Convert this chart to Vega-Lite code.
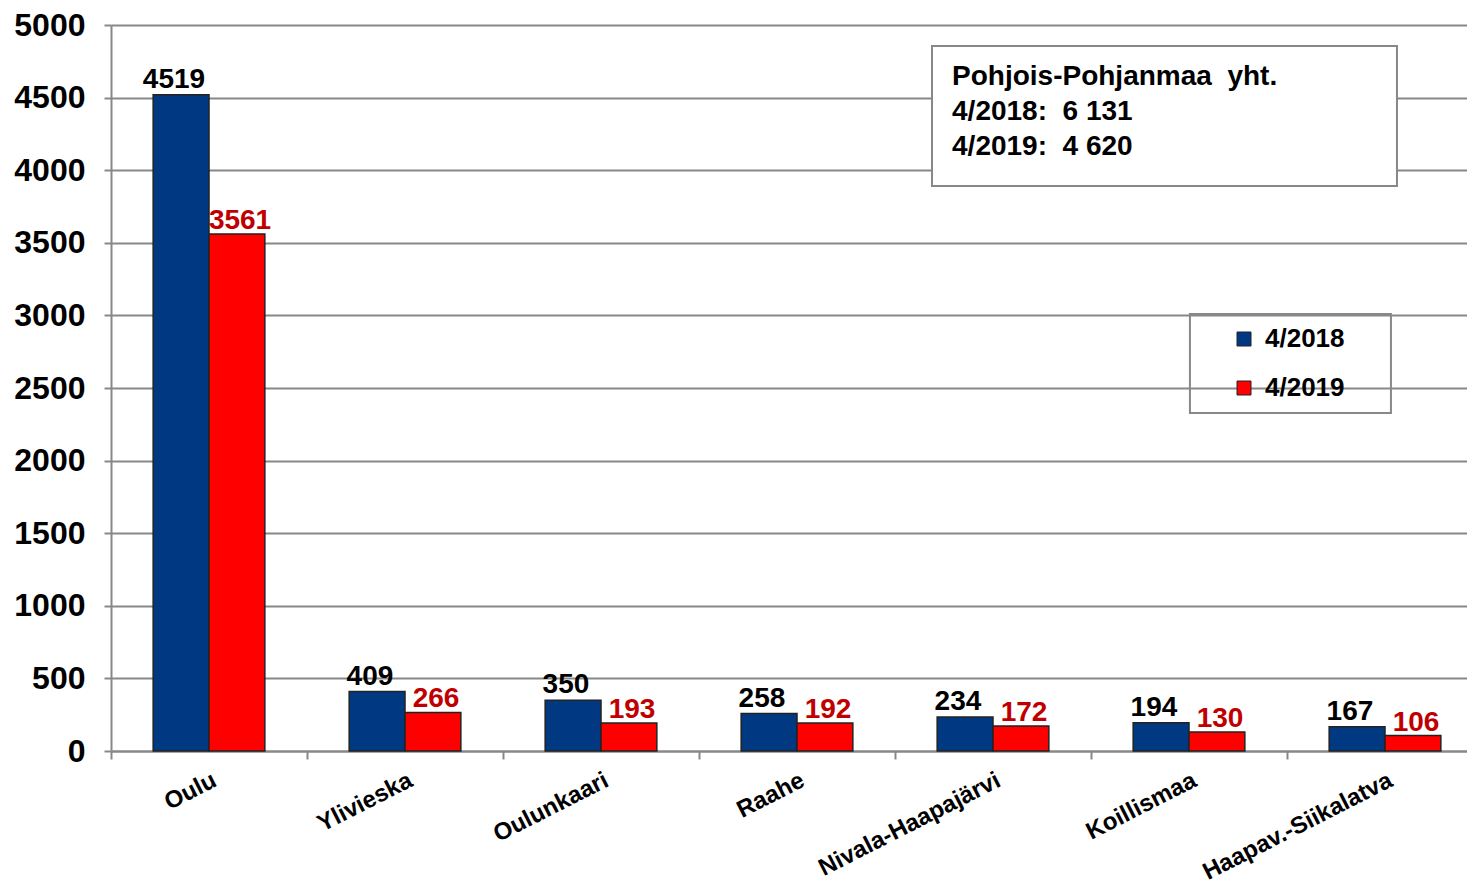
{
  "$schema": "https://vega.github.io/schema/vega-lite/v6.json",
  "width": 1372,
  "height": 726,
  "autosize": "none",
  "padding": {"left": 111, "top": 25, "right": -16, "bottom": 135},
  "background": "white",
  "config": {
    "font": "Liberation Sans",
    "view": {"stroke": null},
    "legend": {
      "orient": "none",
      "legendX": 1120,
      "legendY": 301,
      "padding": 0,
      "title": null,
      "symbolType": "square",
      "symbolSize": 196,
      "symbolStrokeColor": "#222222",
      "symbolStrokeWidth": 1,
      "labelFont": "Liberation Sans",
      "labelFontSize": 26,
      "labelFontWeight": "bold",
      "labelColor": "black",
      "labelOffset": 8,
      "rowPadding": 23
    }
  },
  "datasets": {
    "bars": [
      {"region": "Oulu", "series": "4/2018", "value": 4519},
      {"region": "Oulu", "series": "4/2019", "value": 3561},
      {"region": "Ylivieska", "series": "4/2018", "value": 409},
      {"region": "Ylivieska", "series": "4/2019", "value": 266},
      {"region": "Oulunkaari", "series": "4/2018", "value": 350},
      {"region": "Oulunkaari", "series": "4/2019", "value": 193},
      {"region": "Raahe", "series": "4/2018", "value": 258},
      {"region": "Raahe", "series": "4/2019", "value": 192},
      {"region": "Nivala-Haapajärvi", "series": "4/2018", "value": 234},
      {"region": "Nivala-Haapajärvi", "series": "4/2019", "value": 172},
      {"region": "Koillismaa", "series": "4/2018", "value": 194},
      {"region": "Koillismaa", "series": "4/2019", "value": 130},
      {"region": "Haapav.-Siikalatva", "series": "4/2018", "value": 167},
      {"region": "Haapav.-Siikalatva", "series": "4/2019", "value": 106}
    ]
  },
  "layer": [
    {
      "data": {"name": "bars"},
      "mark": {"type": "bar", "stroke": "#222222", "strokeWidth": 1.5},
      "encoding": {
        "x": {
          "field": "region", "type": "nominal", "sort": null,
          "scale": {"paddingInner": 0, "paddingOuter": 0},
          "axis": {
            "title": null,
            "tickBand": "extent",
            "grid": false,
            "domainColor": "#888888", "domainWidth": 2,
            "tickColor": "#888888", "tickWidth": 2, "tickSize": 8,
            "labelAngle": -27, "labelAlign": "right", "labelBaseline": "top",
            "labelFontSize": 24, "labelFontWeight": "bold", "labelColor": "black",
            "labelPadding": 9, "labelLimit": 400
          }
        },
        "xOffset": {
          "field": "series", "type": "nominal",
          "scale": {"domain": ["4/2018", "4/2019"], "paddingInner": 0, "paddingOuter": 0.755}
        },
        "y": {
          "field": "value", "type": "quantitative",
          "scale": {"domain": [0, 5000], "nice": false},
          "axis": {
            "title": null,
            "format": "d",
            "values": [0, 500, 1000, 1500, 2000, 2500, 3000, 3500, 4000, 4500, 5000],
            "grid": true, "gridColor": "#888888", "gridWidth": 2,
            "domainColor": "#888888", "domainWidth": 2,
            "tickColor": "#888888", "tickWidth": 2, "tickSize": 7,
            "labelFontSize": 32, "labelFontWeight": "bold", "labelColor": "black",
            "labelPadding": 19
          }
        },
        "fill": {
          "field": "series", "type": "nominal",
          "scale": {"domain": ["4/2018", "4/2019"], "range": ["#003882", "#FF0000"]}
        }
      }
    },
    {
      "data": {"name": "bars"},
      "transform": [{"filter": "datum.series === '4/2018'"}],
      "mark": {"type": "text", "fontSize": 28, "fontWeight": "bold", "color": "black", "baseline": "alphabetic", "dy": -7, "dx": 4},
      "encoding": {
        "x": {"field": "region", "type": "nominal", "sort": null, "scale": {"paddingInner": 0, "paddingOuter": 0}, "axis": null},
        "xOffset": {"field": "series", "type": "nominal", "scale": {"domain": ["4/2018", "4/2019"], "paddingInner": 0, "paddingOuter": 0.755}},
        "y": {"field": "value", "type": "quantitative"},
        "text": {"field": "value", "type": "quantitative"}
      }
    },
    {
      "data": {"name": "bars"},
      "transform": [{"filter": "datum.series === '4/2019'"}],
      "mark": {"type": "text", "fontSize": 28, "fontWeight": "bold", "color": "#C00000", "baseline": "alphabetic", "dy": -5, "dx": -8},
      "encoding": {
        "x": {"field": "region", "type": "nominal", "sort": null, "scale": {"paddingInner": 0, "paddingOuter": 0}, "axis": null},
        "xOffset": {"field": "series", "type": "nominal", "scale": {"domain": ["4/2018", "4/2019"], "paddingInner": 0, "paddingOuter": 0.755}},
        "y": {"field": "value", "type": "quantitative"},
        "text": {"field": "value", "type": "quantitative"}
      }
    },
    {
      "data": {"values": [{}]},
      "mark": {"type": "rect", "fill": "white", "stroke": "#888888", "strokeWidth": 2},
      "encoding": {
        "x": {"datum": 0.5984, "type": "quantitative", "scale": {"domain": [0, 1], "nice": false, "zero": false}, "axis": null},
        "x2": {"datum": 0.9373},
        "y": {"datum": 4855, "type": "quantitative"},
        "y2": {"datum": 3891}
      }
    },
    {
      "data": {"values": [{}]},
      "mark": {
        "type": "text", "align": "left", "baseline": "alphabetic",
        "fontSize": 28, "fontWeight": "bold", "color": "black", "lineHeight": 35,
        "text": ["Pohjois-Pohjanmaa\u00a0 yht.", "4/2018:\u00a0 6 131", "4/2019:\u00a0 4 620"]
      },
      "encoding": {
        "x": {"datum": 0.613, "type": "quantitative", "scale": {"domain": [0, 1], "nice": false, "zero": false}, "axis": null},
        "y": {"datum": 4587, "type": "quantitative"}
      }
    },
    {
      "data": {"values": [{}]},
      "mark": {"type": "rect", "fill": null, "fillOpacity": 0, "stroke": "#888888", "strokeWidth": 2},
      "encoding": {
        "x": {"datum": 0.7864, "type": "quantitative", "scale": {"domain": [0, 1], "nice": false, "zero": false}, "axis": null},
        "x2": {"datum": 0.9329},
        "y": {"datum": 3010, "type": "quantitative"},
        "y2": {"datum": 2328}
      }
    }
  ],
  "resolve": {"scale": {"x": "independent", "xOffset": "independent"}, "axis": {"x": "independent"}}
}
